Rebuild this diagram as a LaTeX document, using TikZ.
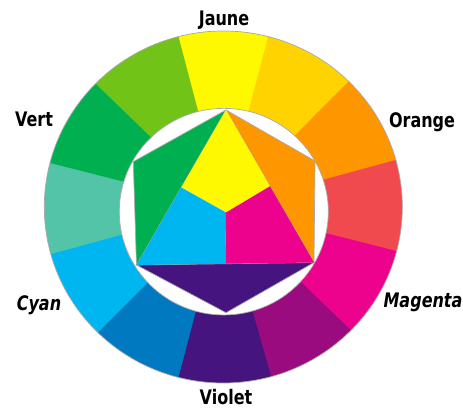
\documentclass[tikz,border=0pt]{standalone}
\usepackage{fontspec}
\setmainfont{DejaVu Sans}
\usetikzlibrary{calc}
\definecolor{cYellow}{HTML}{FFF900}
\definecolor{cYelOr}{HTML}{FFD300}
\definecolor{cOrange}{HTML}{FE9600}
\definecolor{cRed}{HTML}{F04A4F}
\definecolor{cMagenta}{HTML}{EC028C}
\definecolor{cPurple}{HTML}{9B0B80}
\definecolor{cViolet}{HTML}{45147F}
\definecolor{cBlue}{HTML}{0079C0}
\definecolor{cCyan}{HTML}{00B6F0}
\definecolor{cTurq}{HTML}{53C4A7}
\definecolor{cGreen}{HTML}{00B050}
\definecolor{cYelGreen}{HTML}{71C417}
\definecolor{cEdge}{HTML}{A8A8A8}
\begin{document}
\begin{tikzpicture}[x=1pt,y=1pt,
  lbl/.style={anchor=base, inner sep=0pt, font=\fontsize{16}{18}\selectfont\bfseries},
  edge/.style={draw=cEdge, line width=0.7pt, line join=round}]
\useasboundingbox (0,0) rectangle (463,412);
\fill[white] (0,0) rectangle (463,412);
% outer ring wedges
\coordinate (O) at (223.3,205);
\foreach \a/\c in {90/cYellow,60/cYelOr,30/cOrange,0/cRed,-30/cMagenta,-60/cPurple,
  -90/cViolet,-120/cBlue,-150/cCyan,180/cTurq,150/cGreen,120/cYelGreen}{
  \fill[\c] (O) -- ($(O)+({179*cos(\a-15.5)},{176*sin(\a-15.5)})$)
    arc[start angle=\a-15.5, end angle=\a+15.5, x radius=179, y radius=176] -- cycle;
}
\draw[edge] (O) ellipse[x radius=179, y radius=176];
% inner white disc
\filldraw[fill=white, edge] (223.8,200.35) ellipse[x radius=104.5, y radius=103.3];
% inner figure
\coordinate (T) at (226,302);
\coordinate (UR) at (315,251);
\coordinate (BR) at (314,149.5);
\coordinate (B) at (226,99.3);
\coordinate (BL) at (136.5,147);
\coordinate (UL) at (133.3,250.3);
\coordinate (C) at (226,199.5);
\coordinate (ML) at ($(T)!0.5!(BL)$);
\coordinate (MR) at ($(T)!0.5!(BR)$);
\coordinate (MB) at ($(BL)!0.5!(BR)$);
\filldraw[fill=cGreen, edge] (T) -- (UL) -- (BL) -- cycle;
\filldraw[fill=cOrange, edge] (T) -- (UR) -- (BR) -- cycle;
\filldraw[fill=cViolet, edge] (BL) -- (B) -- (BR) -- cycle;
\fill[cYellow] (T) -- (MR) -- (C) -- (ML) -- cycle;
\fill[cCyan] (ML) -- (C) -- (MB) -- (BL) -- cycle;
\fill[cMagenta] (C) -- (MR) -- (BR) -- (MB) -- cycle;
% labels
\node[lbl] (jaune) at (224,386) {\scalebox{1}[1.25]{Jaune}};
\node[lbl] (orange) at (422,284) {\scalebox{1}[1.25]{Orange}};
\node[lbl] (vert) at (34,285) {\scalebox{1}[1.25]{Vert}};
\node[lbl] (cyan) at (39,101) {\scalebox{1}[1.25]{\itshape Cyan}};
\node[lbl] (magenta) at (423,104) {\scalebox{1}[1.25]{\itshape Magenta}};
\node[lbl] (violet) at (226,7) {\scalebox{1}[1.25]{Violet}};
\end{tikzpicture}
\end{document}
